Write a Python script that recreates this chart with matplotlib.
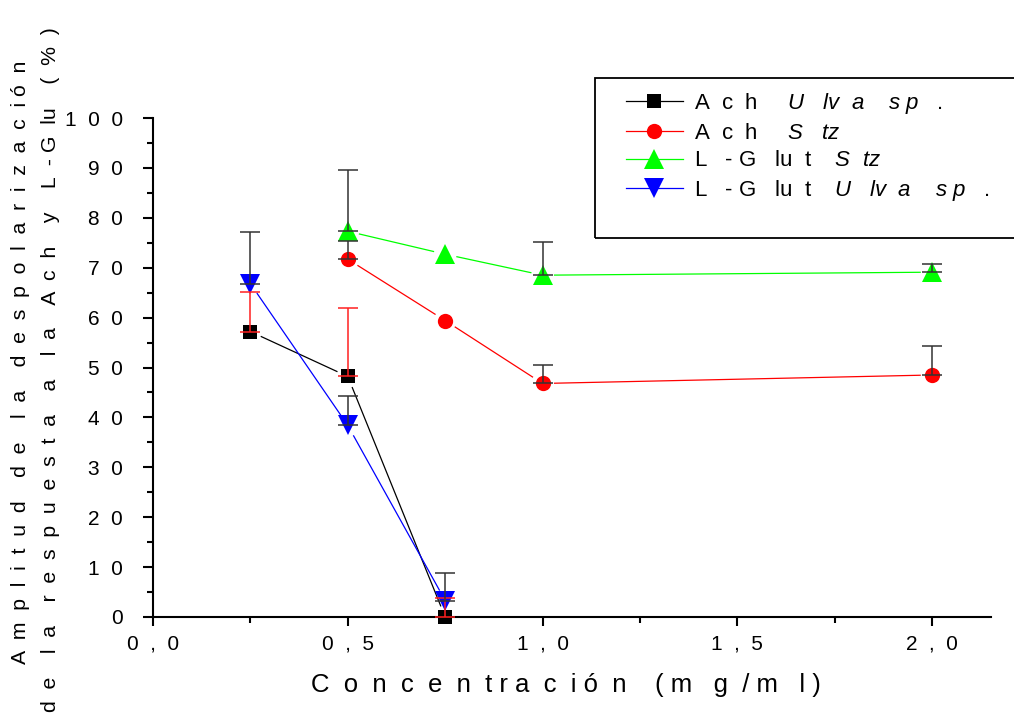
import numpy as np
import matplotlib
matplotlib.use('Agg')
import matplotlib.pyplot as plt
from matplotlib.lines import Line2D
from matplotlib.patches import Rectangle
from matplotlib.ticker import MultipleLocator, FixedLocator, FixedFormatter

plt.rcParams['font.family'] = ['Liberation Sans', 'DejaVu Sans']
plt.rcParams['mathtext.fontset'] = 'custom'
plt.rcParams['mathtext.rm'] = 'Liberation Sans'
plt.rcParams['mathtext.it'] = 'Liberation Sans:italic'

# data (upper error only)
x_ach_ulva = [0.25, 0.5, 0.75]
y_ach_ulva = [57.2, 48.2, 0.0]
e_ach_ulva = [7.9, 13.7, 3.9]

x_ach_stz = [0.5, 0.75, 1.0, 2.0]
y_ach_stz = [71.7, 59.4, 46.8, 48.5]
e_ach_stz = [3.6, 0.0, 3.8, 5.9]

x_glut_stz = [0.5, 0.75, 1.0, 2.0]
y_glut_stz = [77.3, 72.7, 68.5, 69.1]
e_glut_stz = [12.3, 0.0, 6.7, 1.7]

x_glut_ulva = [0.25, 0.5, 0.75]
y_glut_ulva = [66.8, 38.4, 3.3]
e_glut_ulva = [10.3, 5.9, 5.6]

labels = [r'A  c  h     $\mathit{U\ \ \ lv\ \ a\ \ \ \ s\ p\ \ \ .}$',
          r'A  c  h     $\mathit{S\ \ \ tz}$',
          r'L   - G   lu  t    $\mathit{S\ \ tz}$',
          r'L   - G   lu  t    $\mathit{U\ \ \ lv\ \ a\ \ \ \ s\ p\ \ \ .}$']

xticks = [0.0, 0.5, 1.0, 1.5, 2.0]
xticklabels = ['0  ,  0', '0  ,  5', '1  ,  0', '1  ,  5', '2  ,  0']
yticks = [0, 10, 20, 30, 40, 50, 60, 70, 80, 90, 100]
yticklabels = ['0', '1  0', '2  0', '3  0', '4  0', '5  0', '6  0', '7  0', '8  0', '9  0', '1  0  0']

W, H = 1014, 724
fig = plt.figure(figsize=(W / 100, H / 100), dpi=100)
ax = fig.add_axes([153 / W, 1 - 617 / H, (991 - 153) / W, (617 - 118) / H])
ax.set_xlim(0, 2.151)
ax.set_ylim(0, 100)

for s in ['top', 'right']:
    ax.spines[s].set_visible(False)
for s in ['left', 'bottom']:
    ax.spines[s].set_linewidth(1.5)

ax.xaxis.set_major_locator(FixedLocator(xticks))
ax.xaxis.set_major_formatter(FixedFormatter(xticklabels))
ax.xaxis.set_minor_locator(MultipleLocator(0.25))
ax.yaxis.set_major_locator(FixedLocator(yticks))
ax.yaxis.set_major_formatter(FixedFormatter(yticklabels))
ax.yaxis.set_minor_locator(MultipleLocator(5))
ax.tick_params(axis='x', which='major', direction='out', length=6.5, width=1.5, pad=6, labelsize=15)
ax.tick_params(axis='x', which='minor', direction='out', length=4, width=1.5)
ax.tick_params(axis='y', which='major', direction='out', length=7.5, width=1.5, pad=14, labelsize=15)
ax.tick_params(axis='y', which='minor', direction='out', length=4, width=1.5)


def gapped_line(x, y, color, gap=12):
    # Origin style: segments stop short of the symbols
    pts = ax.transData.transform(np.column_stack([x, y]))
    inv = ax.transData.inverted()
    for p0, p1 in zip(pts[:-1], pts[1:]):
        d = p1 - p0
        L = np.hypot(*d)
        if L <= 2 * gap:
            continue
        u = d / L
        seg = inv.transform(np.array([p0 + u * gap, p1 - u * gap]))
        ax.plot(seg[:, 0], seg[:, 1], color=color, lw=0.9, zorder=2, clip_on=False)


series = [
    (x_ach_ulva, y_ach_ulva, e_ach_ulva, 'black', 's', 10, '#ff2020'),
    (x_ach_stz, y_ach_stz, e_ach_stz, 'red', 'o', 11, '#333333'),
    (x_glut_stz, y_glut_stz, e_glut_stz, '#00ff00', '^', 14, '#333333'),
    (x_glut_ulva, y_glut_ulva, e_glut_ulva, 'blue', 'v', 14, '#333333'),
]

handles = []
for xs, ys, es, col, mk, ms, ecol in series:
    gapped_line(xs, ys, col)
    ax.plot(xs, ys, linestyle='none', marker=mk, markersize=ms, color=col,
            markeredgewidth=0, zorder=4, clip_on=False)
    mask = np.array(es) > 0
    ax.errorbar(np.array(xs)[mask], np.array(ys)[mask],
                yerr=[np.zeros(mask.sum()), np.array(es)[mask]],
                fmt='none', ecolor=ecol, elinewidth=1.1, capsize=7.5,
                capthick=1.1, zorder=5, clip_on=False)
    handles.append(Line2D([], [], color=col, lw=0.9, marker=mk, markersize=ms,
                          markeredgewidth=0))

leg = ax.legend(handles, labels, loc='upper left',
                bbox_to_anchor=(626 / W, 1 - 91 / H), bbox_transform=fig.transFigure,
                frameon=False, fontsize=16, handlelength=2.55, handletextpad=0.5,
                labelspacing=0.3, borderpad=0, borderaxespad=0)
fig.add_artist(Rectangle((595 / W, 1 - 238 / H), (1040 - 595) / W, 160 / H,
                         transform=fig.transFigure, fill=False, lw=1.3,
                         edgecolor='black', clip_on=False))

fig.text(566 / W, 1 - 685 / H,
         'C  o  n  c  e  n  t r a  c  i ó  n    ( m   g  / m   l )',
         ha='center', va='center', fontsize=18.5)
fig.text(21 / W, 1 - 362 / H,
         'A  m  p  l  i  t  u  d    d  e    l  a    d  e  s  p  o  l  a  r  i  z  a  c  i ó  n',
         ha='center', va='center', rotation=90, fontsize=15.3)
fig.text(51 / W, 1 - 370 / H,
         'd  e    l  a    r  e  s  p  u  e  s  t  a    a    l  a    A  c  h    y    L  - G  lu    (  %  )',
         ha='center', va='center', rotation=90, fontsize=15.3)

fig.savefig('out.png', dpi=100)
